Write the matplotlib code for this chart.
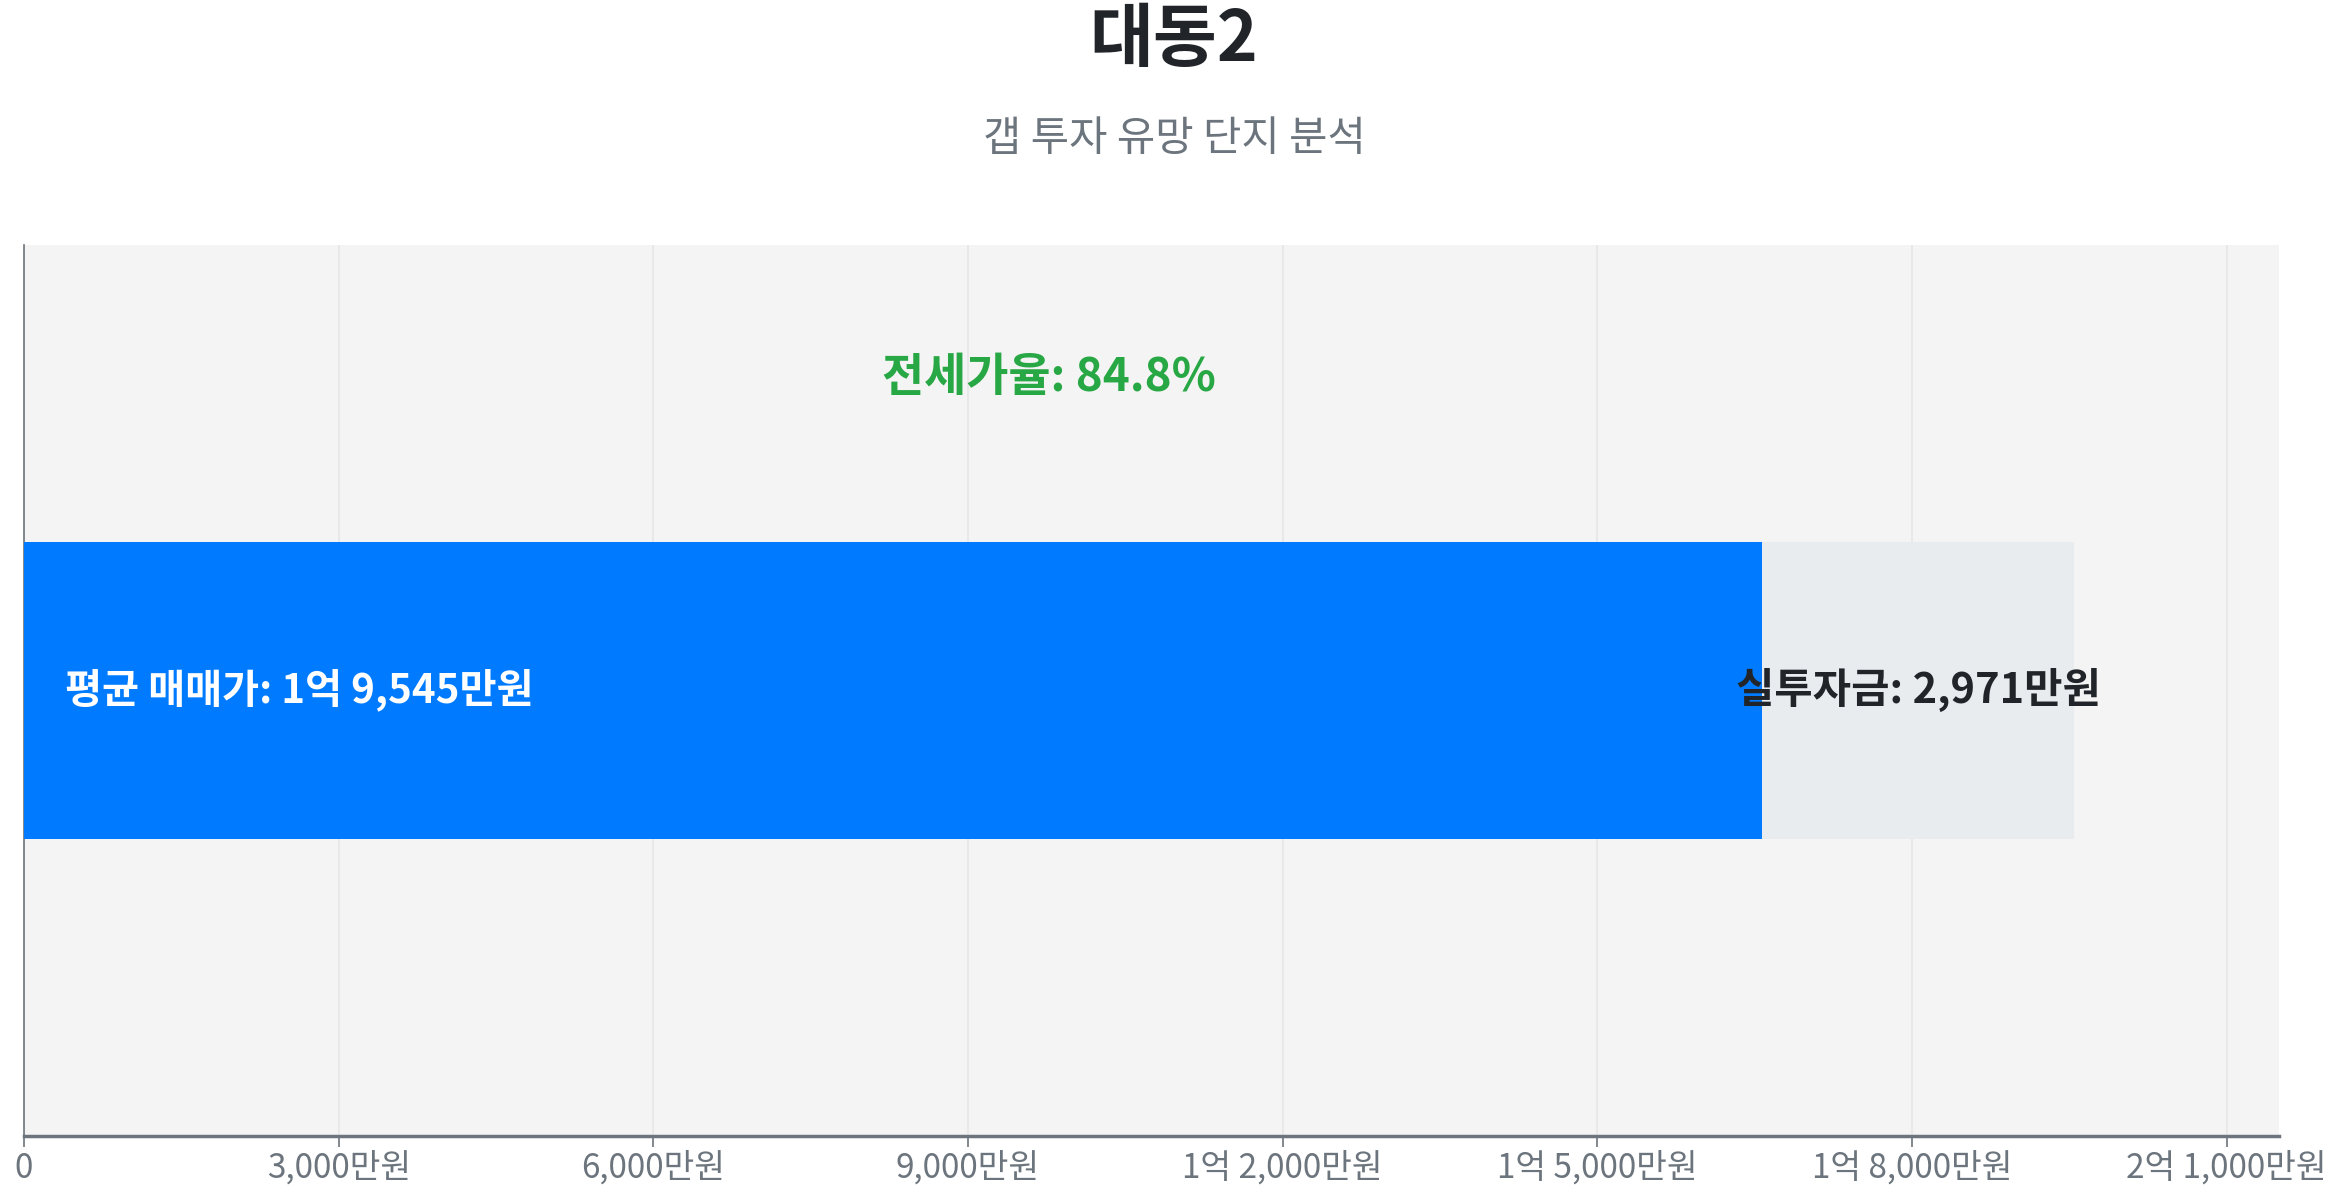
import matplotlib
matplotlib.use("Agg")
import matplotlib.pyplot as plt
from matplotlib.ticker import FuncFormatter, MultipleLocator

plt.rcParams["font.family"] = ["Noto Sans CJK KR", "DejaVu Sans"]

# 데이터 (만원)
complex_name = "대동2"
subtitle = "갭 투자 유망 단지 분석"
avg_price = 19545
invest = 2971
jeonse = avg_price - invest
jeonse_ratio = 84.8

BLUE = "#007bff"
GRAY_BAR = "#e9ecef"
GREEN = "#28a745"
DARK = "#212529"
MUTED = "#6c757d"


def won_fmt(v, pos=None):
    v = int(round(v))
    if v == 0:
        return "0"
    eok, man = divmod(v, 10000)
    if eok and man:
        return f"{eok}억 {man:,}만원"
    if eok:
        return f"{eok}억원"
    return f"{man:,}만원"


fig = plt.figure(figsize=(23.48, 12), dpi=100)
ax = fig.add_axes([0.0102, 0.0535, 0.9604, 0.7425])
ax.set_facecolor("#f4f4f4")

ax.barh(0, jeonse, height=1.0, color=BLUE, zorder=3)
ax.barh(0, invest, left=jeonse, height=1.0, color=GRAY_BAR, zorder=3)

ax.set_xlim(0, avg_price * 1.1)
ax.set_ylim(-1.5, 1.5)

ax.text(avg_price * 0.02, 0, f"평균 매매가: {won_fmt(avg_price)}", color="white",
        fontsize=29, fontweight="bold", va="center", ha="left", zorder=4)
ax.text(jeonse + invest / 2, 0, f"실투자금: {won_fmt(invest)}", color=DARK,
        fontsize=30, fontweight="bold", va="center", ha="center", zorder=4)
ax.text(avg_price / 2, 1.05, f"전세가율: {jeonse_ratio}%", color=GREEN,
        fontsize=33, fontweight="bold", va="center", ha="center", zorder=4)

ax.xaxis.set_major_locator(MultipleLocator(3000))
ax.xaxis.set_major_formatter(FuncFormatter(won_fmt))
ax.set_yticks([])
ax.grid(axis="x", color="#e6e6e6", linewidth=1.2, zorder=0)
ax.tick_params(axis="x", colors=MUTED, labelsize=24, length=8, width=1.2, pad=3)
for s in ("top", "right"):
    ax.spines[s].set_visible(False)
ax.spines["left"].set_color(MUTED)
ax.spines["left"].set_linewidth(1.2)
ax.spines["bottom"].set_color(MUTED)
ax.spines["bottom"].set_linewidth(2.5)

fig.text(0.5, 0.966, complex_name, ha="center", va="center", fontsize=50,
         fontweight="bold", color=DARK)
fig.text(0.5, 0.884, subtitle, ha="center", va="center", fontsize=30, color=MUTED)

fig.savefig("out.png", dpi=100)
